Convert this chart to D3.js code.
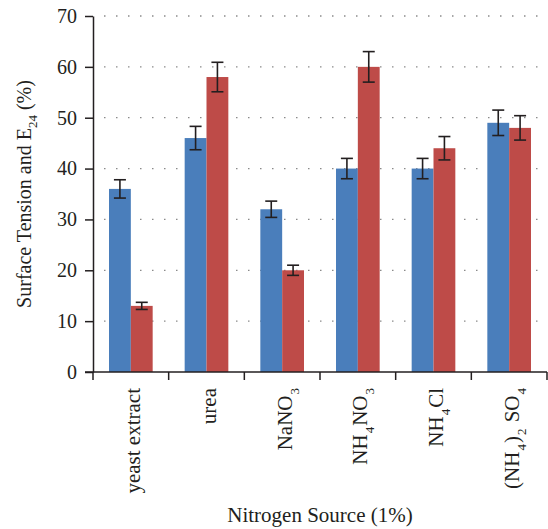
<!DOCTYPE html>
<html>
<head>
<meta charset="utf-8">
<script src="https://cdn.jsdelivr.net/npm/d3@7"></script>
<style>
  body { margin: 0; background: #fff; }
  text { font-family: "Liberation Serif", "DejaVu Serif", serif; fill: #231f20; }
</style>
</head>
<body>
<div id="chart"></div>
<script>
// data
const sources = ["yeast extract", "urea", "NaNO3", "NH4NO3", "NH4Cl", "(NH4)2SO4"];
// label parts: [text, isSubscript]
const sourceLabels = [
  [["yeast extract", false]],
  [["urea", false]],
  [["NaNO", false], ["3", true]],
  [["NH", false], ["4", true], ["NO", false], ["3", true]],
  [["NH", false], ["4", true], ["Cl", false]],
  [["(NH", false], ["4", true], [")", false], ["2", true], [" SO", false], ["4", true]]
];
const surfaceTension = [36, 46, 32, 40, 40, 49];
const surfaceTensionErr = [1.8, 2.3, 1.6, 2.0, 2.0, 2.5];
const e24 = [13, 58, 20, 60, 44, 48];
const e24Err = [0.7, 2.9, 1.0, 3.0, 2.3, 2.4];
const yTicks = [0, 10, 20, 30, 40, 50, 60, 70];

const W = 548, H = 529;
const margin = { top: 16, right: 1, bottom: 157, left: 93 };

const svg = d3.select("#chart").append("svg")
    .attr("width", W)
    .attr("height", H);

const x = d3.scaleBand()
    .domain(sources)
    .range([margin.left, W - margin.right])
    .paddingInner(0)
    .paddingOuter(0);

const sub = d3.scaleBand()
    .domain(["st", "e24"])
    .range([16, x.bandwidth() - 16])
    .padding(0);

const y = d3.scaleLinear()
    .domain([0, 70])
    .range([H - margin.bottom, margin.top]);

// dotted grid
svg.append("g")
  .selectAll("line")
  .data(yTicks.filter(d => d > 0))
  .join("line")
    .attr("x1", margin.left + 11)
    .attr("x2", W - margin.right)
    .attr("y1", d => y(d))
    .attr("y2", d => y(d))
    .attr("stroke", "#8a8a8a")
    .attr("stroke-width", 1.3)
    .attr("stroke-dasharray", "1.5,10.5");

const rows = sources.map((s, i) => ({
  source: s,
  bars: [
    { key: "st", value: surfaceTension[i], err: surfaceTensionErr[i], color: "#4a7ebb" },
    { key: "e24", value: e24[i], err: e24Err[i], color: "#be4b48" }
  ]
}));

const groups = svg.append("g")
  .selectAll("g")
  .data(rows)
  .join("g")
    .attr("transform", d => `translate(${x(d.source)},0)`);

groups.selectAll("rect")
  .data(d => d.bars)
  .join("rect")
    .attr("x", d => sub(d.key))
    .attr("y", d => y(d.value))
    .attr("width", sub.bandwidth())
    .attr("height", d => y(0) - y(d.value))
    .attr("fill", d => d.color);

// error bars
const eb = groups.selectAll("g.err")
  .data(d => d.bars)
  .join("g")
    .attr("class", "err")
    .attr("stroke", "#231f20")
    .attr("stroke-width", 1.6);

eb.append("line")
    .attr("x1", d => sub(d.key) + sub.bandwidth() / 2)
    .attr("x2", d => sub(d.key) + sub.bandwidth() / 2)
    .attr("y1", d => y(d.value + d.err))
    .attr("y2", d => y(d.value - d.err));

[1, -1].forEach(sign => {
  eb.append("line")
      .attr("x1", d => sub(d.key) + sub.bandwidth() / 2 - 6)
      .attr("x2", d => sub(d.key) + sub.bandwidth() / 2 + 6)
      .attr("y1", d => y(d.value + sign * d.err))
      .attr("y2", d => y(d.value + sign * d.err));
});

// y axis
const yAxis = svg.append("g")
    .attr("transform", `translate(${margin.left},0)`)
    .call(d3.axisLeft(y).tickValues(yTicks).tickSize(8).tickSizeOuter(0).tickPadding(8));
yAxis.selectAll("path, line").attr("stroke", "#231f20").attr("stroke-width", 1.5);
yAxis.selectAll("text").attr("font-size", 20).attr("font-family", "Liberation Serif");

// x axis: ticks at band boundaries
const xAxis = svg.append("g");
xAxis.append("line")
    .attr("x1", margin.left - 8)
    .attr("x2", W - margin.right)
    .attr("y1", y(0))
    .attr("y2", y(0))
    .attr("stroke", "#231f20")
    .attr("stroke-width", 1.5);
xAxis.selectAll("line.tick")
  .data(sources.map(s => x(s)).concat([x(sources[sources.length - 1]) + x.bandwidth()]))
  .join("line")
    .attr("class", "tick")
    .attr("x1", d => d)
    .attr("x2", d => d)
    .attr("y1", y(0))
    .attr("y2", y(0) + 8)
    .attr("stroke", "#231f20")
    .attr("stroke-width", 1.5);

// category labels (rotated)
const labels = svg.append("g")
  .selectAll("text")
  .data(sources.map((s, i) => ({ s, parts: sourceLabels[i] })))
  .join("text")
    .attr("transform", d => `translate(${x(d.s) + x.bandwidth() / 2 + 2},${y(0) + 16}) rotate(-90)`)
    .attr("text-anchor", "end")
    .attr("dy", "0.35em")
    .attr("font-size", 21);

labels.each(function(d) {
  const t = d3.select(this);
  let shifted = false;
  d.parts.forEach(([txt, isSub]) => {
    const ts = t.append("tspan").text(txt);
    if (isSub && !shifted) { ts.attr("dy", 7).attr("font-size", 13).attr("dx", 1); shifted = true; }
    else if (isSub) { ts.attr("font-size", 13).attr("dx", 1); }
    else if (shifted) { ts.attr("dy", -7).attr("dx", 1); shifted = false; }
  });
});

// axis titles
const yTitle = svg.append("text")
    .attr("transform", `translate(31,${(y(0) + y(70)) / 2}) rotate(-90)`)
    .attr("text-anchor", "middle")
    .attr("font-size", 20);
yTitle.append("tspan").text("Surface Tension and E");
yTitle.append("tspan").text("24").attr("font-size", 13).attr("dy", 6);
yTitle.append("tspan").text(" (%)").attr("dy", -6);

svg.append("text")
    .attr("x", (margin.left + W - margin.right) / 2)
    .attr("y", 522)
    .attr("text-anchor", "middle")
    .attr("font-size", 21)
    .text("Nitrogen Source (1%)");
</script>
</body>
</html>
